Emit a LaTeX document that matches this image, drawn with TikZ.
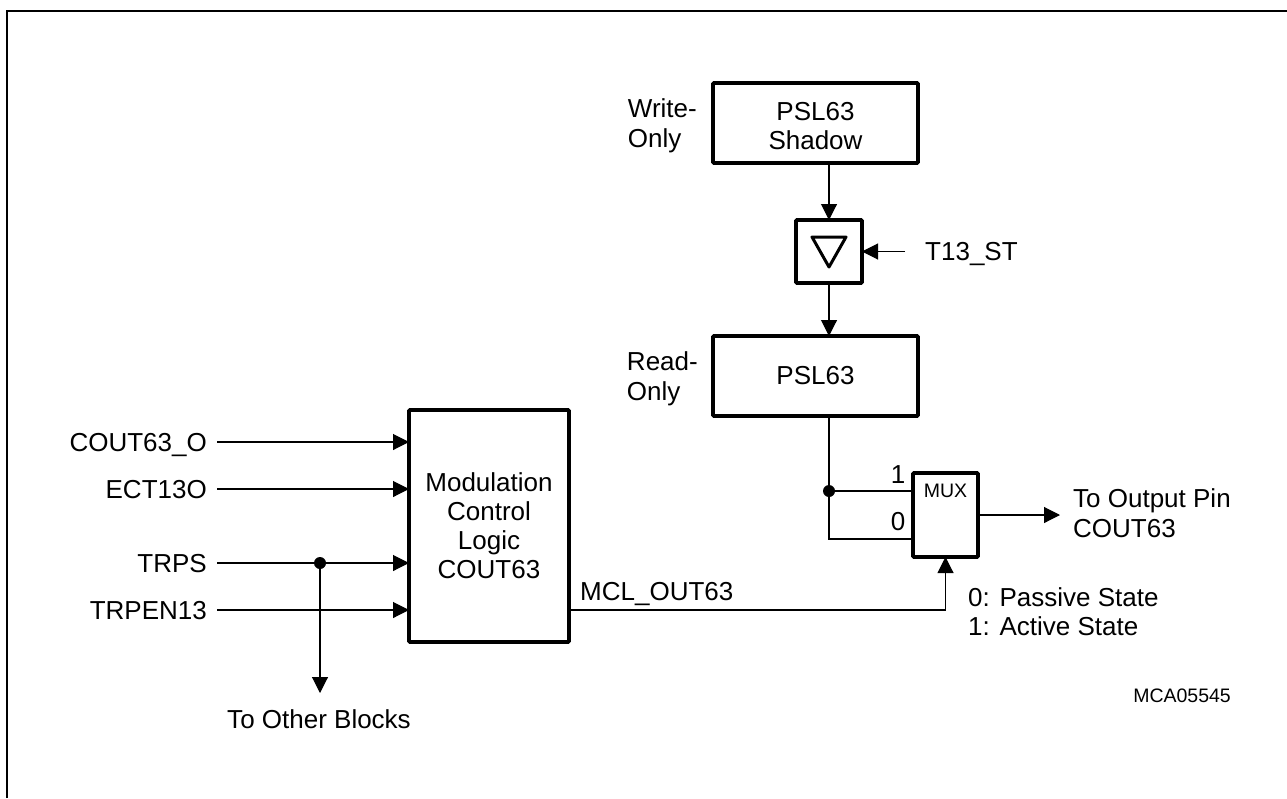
\documentclass[tikz,border=0pt]{standalone}
\usepackage{fontspec}
\setmainfont{Liberation Sans}
\usetikzlibrary{arrows.meta, positioning, calc}

\begin{document}
\begin{tikzpicture}[
        x=1pt,
        y=-1pt,
        box/.style={
            draw,
            line width=3.6pt,
            rounded corners=1pt,
            align=center,
            outer sep=0pt,
            inner sep=0pt,
            font=\fontsize{26}{29}\selectfont
        },
        txt/.style={
            align=left,
            inner sep=0pt,
            font=\fontsize{26}{29.5}\selectfont
        },
        sig/.style={
            inner ysep=0pt,
            inner xsep=10pt,
            text height=18.5pt,
            text depth=0pt,
            font=\fontsize{26}{29}\selectfont
        },
        wire/.style={
            line width=1.1pt
        },
        arrow/.style={
            wire,
            -{Triangle[length=16pt,width=16pt]}
        },
        dot/.style={
            circle,
            fill,
            inner sep=0pt,
            minimum size=12pt
        }
    ]

    % Page size and frame
    \useasboundingbox (0,0) rectangle (1287,798);
    \draw[line width=2pt] (7,798) -- (7,11) -- (1287,11);

    % Register path
    \node[box, minimum width=205pt, minimum height=80pt] (shadow) at (815.5,123) {\rule{0pt}{24pt}PSL63\\Shadow};
    \node[box, minimum width=66pt, minimum height=63pt] (latch) at (829,251.5) {};
    \node[box, minimum width=205pt, minimum height=80pt] (psl) at (815.5,376) {PSL63};
    \node[box, minimum width=65pt, minimum height=84pt] (mux) at (945.5,515) {};
    \node[font=\fontsize{19.5}{22}\selectfont, inner sep=0pt] (muxname) at (945.5,491) {MUX};

    % Main block
    \node[box, minimum width=160pt, minimum height=232pt] (logic) at (489,526) {
        Modulation\\
        Control\\
        Logic\\
        COUT63
    };

    % Side labels
    \node[txt, left=16pt of shadow, yshift=-3pt] (wronly) {Write-\\Only};
    \node[txt, left=15pt of psl, xshift=-0pt, yshift=-3pt] (ronly) {Read-\\Only};

    % Inputs
    \node[sig, anchor=east] (cout) at (217,442) {COUT63\_O};
    \node[sig, anchor=east] (ect) at (217,489) {ECT13O};
    \node[sig, anchor=east] (trps) at (217,563) {TRPS};
    \node[sig, anchor=east] (trpen) at (217,610) {TRPEN13};
    \node[sig, anchor=west, inner xsep=20pt] (tst) at (905,251.5) {T13\_ST};

    % Outputs and notes
    \node[txt, anchor=west] (outpin) at (1073,513) {To Output Pin\\COUT63};
    \node[txt, anchor=west] (states) at (968,611.5) {0: Passive State\\1: Active State};
    \node[sig, inner xsep=0pt] (others) at (319,719) {To Other Blocks};
    \node[sig, inner xsep=0pt, anchor=west] (mcl) at (580,591) {MCL\_OUT63};
    \node[font=\fontsize{19.5}{22}\selectfont, inner sep=0pt, anchor=east] (mca) at (1231,696) {MCA05545};
    \node[sig, inner xsep=0pt] (one) at (898,474) {1};
    \node[sig, inner xsep=0pt] (zero) at (898,521) {0};

    % Free ends and branch points
    \coordinate (outend) at (1060,515);
    \coordinate (othersend) at (320,693);
    \coordinate (zerocorner) at (829,539);
    \node[dot] (tapmux) at (829,491) {};
    \node[dot] (taptrps) at (320,563) {};

    % Register arrows
    \draw[arrow] (latch.north |- shadow.south) -- (latch.north);
    \draw[arrow] (latch.south) -- (latch.south |- psl.north);
    \draw[arrow] (tst.west) -- (latch.east |- tst.west);
    \draw[wire] (latch.south |- psl.south) -- (zerocorner) -- (mux.west |- zerocorner);
    \draw[wire] (tapmux) -- (mux.west |- tapmux);
    \draw[arrow] (mux.east) -- (outend);

    % Input arrows
    \draw[arrow] (cout.east) -- (logic.west |- cout.east);
    \draw[arrow] (ect.east) -- (logic.west |- ect.east);
    \draw[arrow] (trps.east) -- (logic.west |- trps.east);
    \draw[arrow] (trpen.east) -- (logic.west |- trpen.east);
    \draw[arrow] (taptrps) -- (othersend);

    % Logic output to select
    \draw[arrow] (logic.east |- trpen.east) -| (mux.south);

    % Buffer symbol
    \draw[line width=3pt, line join=round]
        ($(latch.center)+(-17,-14.5)$)
        -- ($(latch.center)+(17,-14.5)$)
        -- ($(latch.center)+(0,15.5)$)
        -- cycle;

    \end{tikzpicture}
\end{document}
